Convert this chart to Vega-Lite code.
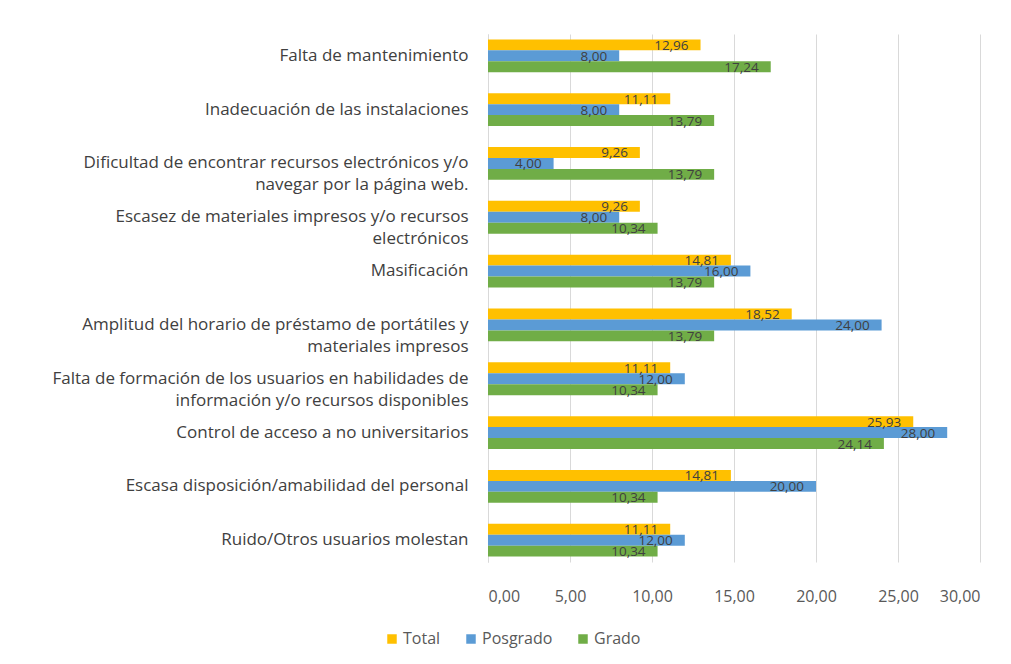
{
  "$schema": "https://vega.github.io/schema/vega-lite/v6.json",
  "width": 492,
  "height": 528,
  "autosize": {"type": "none"},
  "padding": {"left": 488, "top": 34, "right": 31, "bottom": 102},
  "background": "white",
  "config": {
    "locale": {"number": {"decimal": ",", "thousands": ".", "grouping": [3], "currency": ["", " €"]}},
    "view": {"stroke": null},
    "font": "Open Sans"
  },
  "data": {
    "values": [
      {"motivo": "Falta de mantenimiento", "serie": "Total", "valor": 12.96},
      {"motivo": "Falta de mantenimiento", "serie": "Posgrado", "valor": 8.00},
      {"motivo": "Falta de mantenimiento", "serie": "Grado", "valor": 17.24},
      {"motivo": "Inadecuación de las instalaciones", "serie": "Total", "valor": 11.11},
      {"motivo": "Inadecuación de las instalaciones", "serie": "Posgrado", "valor": 8.00},
      {"motivo": "Inadecuación de las instalaciones", "serie": "Grado", "valor": 13.79},
      {"motivo": "Dificultad de encontrar recursos electrónicos y/o|navegar por la página web.", "serie": "Total", "valor": 9.26},
      {"motivo": "Dificultad de encontrar recursos electrónicos y/o|navegar por la página web.", "serie": "Posgrado", "valor": 4.00},
      {"motivo": "Dificultad de encontrar recursos electrónicos y/o|navegar por la página web.", "serie": "Grado", "valor": 13.79},
      {"motivo": "Escasez de materiales impresos y/o recursos|electrónicos", "serie": "Total", "valor": 9.26},
      {"motivo": "Escasez de materiales impresos y/o recursos|electrónicos", "serie": "Posgrado", "valor": 8.00},
      {"motivo": "Escasez de materiales impresos y/o recursos|electrónicos", "serie": "Grado", "valor": 10.34},
      {"motivo": "Masificación", "serie": "Total", "valor": 14.81},
      {"motivo": "Masificación", "serie": "Posgrado", "valor": 16.00},
      {"motivo": "Masificación", "serie": "Grado", "valor": 13.79},
      {"motivo": "Amplitud del horario de préstamo de portátiles y|materiales impresos", "serie": "Total", "valor": 18.52},
      {"motivo": "Amplitud del horario de préstamo de portátiles y|materiales impresos", "serie": "Posgrado", "valor": 24.00},
      {"motivo": "Amplitud del horario de préstamo de portátiles y|materiales impresos", "serie": "Grado", "valor": 13.79},
      {"motivo": "Falta de formación de los usuarios en habilidades de|información y/o recursos disponibles", "serie": "Total", "valor": 11.11},
      {"motivo": "Falta de formación de los usuarios en habilidades de|información y/o recursos disponibles", "serie": "Posgrado", "valor": 12.00},
      {"motivo": "Falta de formación de los usuarios en habilidades de|información y/o recursos disponibles", "serie": "Grado", "valor": 10.34},
      {"motivo": "Control de acceso a no universitarios", "serie": "Total", "valor": 25.93},
      {"motivo": "Control de acceso a no universitarios", "serie": "Posgrado", "valor": 28.00},
      {"motivo": "Control de acceso a no universitarios", "serie": "Grado", "valor": 24.14},
      {"motivo": "Escasa disposición/amabilidad del personal", "serie": "Total", "valor": 14.81},
      {"motivo": "Escasa disposición/amabilidad del personal", "serie": "Posgrado", "valor": 20.00},
      {"motivo": "Escasa disposición/amabilidad del personal", "serie": "Grado", "valor": 10.34},
      {"motivo": "Ruido/Otros usuarios molestan", "serie": "Total", "valor": 11.11},
      {"motivo": "Ruido/Otros usuarios molestan", "serie": "Posgrado", "valor": 12.00},
      {"motivo": "Ruido/Otros usuarios molestan", "serie": "Grado", "valor": 10.34}
    ]
  },
  "encoding": {
    "y": {
      "field": "motivo",
      "type": "nominal",
      "sort": null,
      "scale": {"paddingInner": 0.39, "paddingOuter": 0.1},
      "axis": {
        "title": null,
        "ticks": false,
        "domain": true,
        "domainColor": "#D9D9D9",
        "domainWidth": 1,
        "labelPadding": 20,
        "labelFont": "Open Sans",
        "labelFontSize": 17,
        "labelColor": "#404040",
        "labelLimit": 0,
        "labelLineHeight": 22,
        "labelExpr": "split(datum.label, '|')"
      }
    },
    "yOffset": {
      "field": "serie",
      "type": "nominal",
      "sort": ["Total", "Posgrado", "Grado"],
      "scale": {"paddingInner": 0, "paddingOuter": 0}
    },
    "x": {
      "field": "valor",
      "type": "quantitative",
      "scale": {"domain": [0, 30], "nice": false},
      "axis": {
        "title": null,
        "values": [0, 5, 10, 15, 20, 25, 30],
        "format": ".2f",
        "domain": false,
        "ticks": false,
        "grid": true,
        "gridColor": "#D9D9D9",
        "gridWidth": 1,
        "labelPadding": 26,
        "labelFont": "Open Sans",
        "labelFontSize": 16,
        "labelColor": "#595959"
      }
    }
  },
  "layer": [
    {
      "mark": {"type": "bar"},
      "encoding": {
        "color": {
          "field": "serie",
          "type": "nominal",
          "sort": ["Total", "Posgrado", "Grado"],
          "scale": {"domain": ["Total", "Posgrado", "Grado"], "range": ["#FFC000", "#5B9BD5", "#70AD47"]},
          "legend": {
            "title": null,
            "orient": "none",
            "direction": "horizontal",
            "legendX": -104,
            "legendY": 597,
            "symbolType": "square",
            "symbolSize": 90,
            "symbolStrokeWidth": 0,
            "labelFont": "Open Sans",
            "labelFontSize": 16,
            "labelColor": "#595959",
            "labelOffset": 3,
            "columnPadding": 22
          }
        }
      }
    },
    {
      "mark": {"type": "text", "align": "right", "baseline": "middle", "dx": -12, "dy": 1, "fontSize": 13.5, "font": "Open Sans", "color": "#404040"},
      "encoding": {
        "text": {"field": "valor", "type": "quantitative", "format": ".2f"}
      }
    }
  ]
}
